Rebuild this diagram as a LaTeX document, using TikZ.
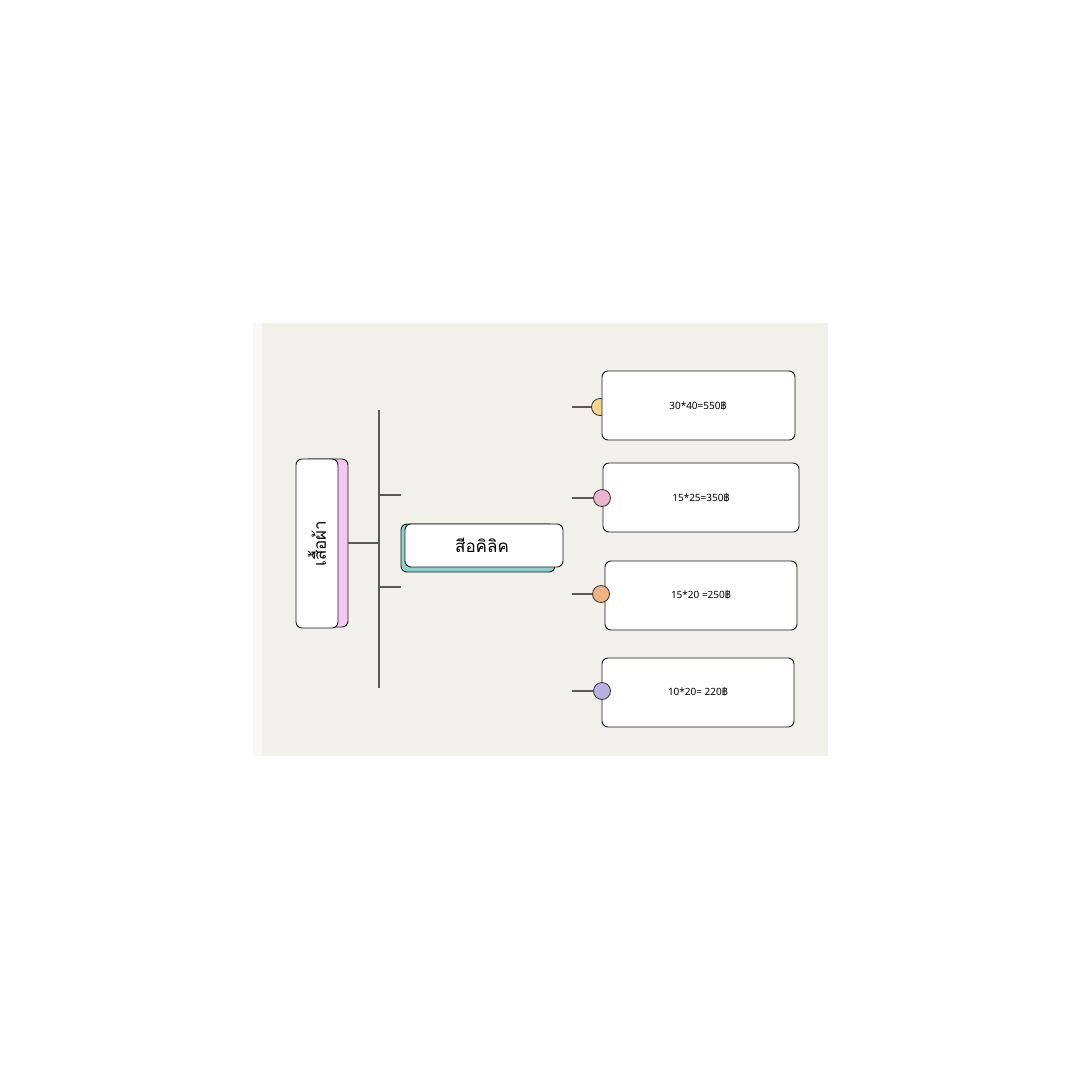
\documentclass[tikz,border=0pt]{standalone}
\usepackage{fontspec}
\setmainfont{Noto Sans}
\newfontfamily\thaifont[Script=Thai]{Loma}
\begin{document}
\begin{tikzpicture}[x=1pt,y=-1pt,
  conn/.style={draw=black!65,line width=1.1pt},
  card/.style={draw=black!90,line width=0.9pt,fill=white,rounded corners=6pt},
  dot/.style={circle,draw=black!80,line width=0.8pt,minimum size=17pt,inner sep=0pt},
  lbl/.style={font=\fontsize{10}{12}\selectfont},
]
\definecolor{bgpanel}{HTML}{F2F0EB}
\definecolor{pinkish}{HTML}{F6C8F1}
\definecolor{tealish}{HTML}{8ED1CD}
\definecolor{cyellow}{HTML}{F4D58E}
\definecolor{cpink}{HTML}{EBB5CF}
\definecolor{corange}{HTML}{F2B283}
\definecolor{clav}{HTML}{B9B0E5}
\useasboundingbox (0,0) rectangle (1080,1080);
\fill[white] (0,0) rectangle (1080,1080);
\fill[bgpanel] (253,323) rectangle (828,756);
\fill[white!55!bgpanel] (253,323) rectangle (262,756);
% left node
\draw[card,fill=pinkish] (303,459) rectangle (348,627);
\draw[card] (296,459) rectangle (338,628);
\node[rotate=90,font=\thaifont\fontsize{17}{20}\selectfont] (root) at (317,543.5) {เสื้อผ้า};
\coordinate (rootR) at (348,543);
% spine
\coordinate (spT) at (379,410);
\coordinate (spB) at (379,688);
\coordinate (spM) at (379,543);
\draw[conn] (spT) -- (spB);
\draw[conn] (rootR) -- (spM);
\coordinate (b1) at (379,495); \coordinate (b1e) at (401,495);
\coordinate (b2) at (379,587); \coordinate (b2e) at (401,587);
\draw[conn] (b1) -- (b1e);
\draw[conn] (b2) -- (b2e);
% middle node
\draw[card,fill=tealish] (401,524) rectangle (555,572);
\draw[card] (405,524) rectangle (563,567);
\node[font=\thaifont\fontsize{17}{20}\selectfont] (mid) at (482,545) {สีอคิลิค};
% right cards
\coordinate (s1) at (572,407); \coordinate (s2) at (572,498);
\coordinate (s3) at (572,594); \coordinate (s4) at (572,691);
\node[dot,fill=cyellow] (d1) at (600,407) {};
\draw[conn] (s1) -- (d1.west);
\draw[card] (602,371) rectangle (795,440);
\node[lbl] (t1) at (698,406) {30*40=550{\thaifont ฿}};
\draw[card] (603,463) rectangle (799,532);
\node[dot,fill=cpink] (d2) at (602,498) {};
\draw[conn] (s2) -- (d2.west);
\node[lbl] (t2) at (701,498) {15*25=350{\thaifont ฿}};
\draw[card] (605,561) rectangle (797,630);
\node[dot,fill=corange] (d3) at (601,594) {};
\draw[conn] (s3) -- (d3.west);
\node[lbl] (t3) at (701,595) {15*20 =250{\thaifont ฿}};
\draw[card] (602,658) rectangle (794,727);
\node[dot,fill=clav] (d4) at (602,691) {};
\draw[conn] (s4) -- (d4.west);
\node[lbl] (t4) at (698,692) {10*20= 220{\thaifont ฿}};
\end{tikzpicture}
\end{document}
